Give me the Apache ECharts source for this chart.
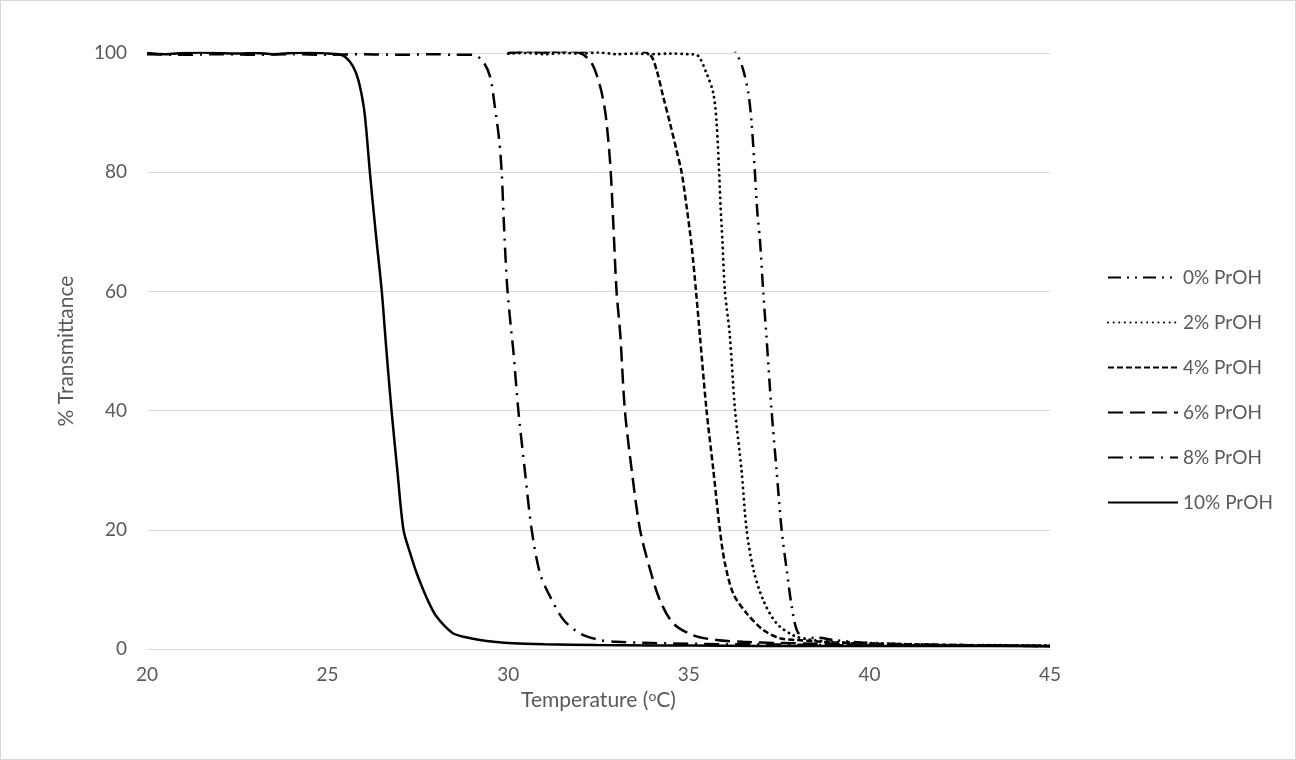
<!DOCTYPE html>
<html>
<head>
<meta charset="utf-8">
<script src="https://cdn.jsdelivr.net/npm/echarts@6/dist/echarts.min.js"></script>
<style>
html,body{margin:0;padding:0;background:#fff;}
#wrap{width:1296px;height:760px;box-sizing:border-box;border:1px solid #d9d9d9;position:relative;}
#chart{position:absolute;left:0;top:0;width:1294px;height:758px;}
</style>
</head>
<body>
<div id="wrap"><div id="chart"></div></div>
<script>
// ---- data ----
const seriesNames = ['0% PrOH','2% PrOH','4% PrOH','6% PrOH','8% PrOH','10% PrOH'];
const xTicks = [20,25,30,35,40,45];
const yTicks = [0,20,40,60,80,100];

const T0 = [30,30.5,31,31.5,32,32.5,33,33.5,34,34.5,35,35.5,36,36.2,36.35,36.51,36.65,36.74,36.83,36.9,36.97,37.06,37.15,37.29,37.43,37.57,37.71,37.85,37.99,38.2,38.6,39,40,41,42,43,45];
const V0 = [100,100.2,100.4,100.3,100.5,100.4,100.7,100.9,101,100.8,101,101.1,101.2,101,99.6,97.1,93.2,88.2,80,73.1,68.6,60,52.4,40.1,30,20,13.3,7.1,3.2,1.8,1.9,1.5,1.0,0.8,0.7,0.6,0.5];

const T2 = [30,30.5,31,31.5,32,32.5,33,33.5,34,34.5,35,35.22,35.49,35.68,35.77,35.84,35.88,35.93,36.0,36.13,36.28,36.46,36.6,36.79,37.06,37.43,37.89,38.3,39,40,42,45];
const V2 = [99.9,100,99.8,100,99.9,100.1,99.8,99.9,99.8,99.9,99.8,99.7,96.6,93.2,88.2,80,74.2,68.6,60,53,40.1,30,20,13.3,8.2,4.3,2.3,1.6,1.2,1.0,0.7,0.6];

const T4 = [30,30.5,31,31.5,32,32.5,33,33.5,33.93,34.11,34.29,34.48,34.66,34.8,34.94,35.08,35.2,35.31,35.49,35.68,35.86,36.0,36.23,36.6,37.06,37.52,37.99,38.5,39,40,42,45];
const V4 = [100,100.3,100.1,100.4,100.2,100.6,100.9,100.5,99.7,97.1,92.7,88.2,83.7,80,74.2,67.5,60,52.4,40.1,30,20,14.4,9.3,6,3.2,1.8,1.5,1.3,1.1,0.9,0.7,0.5];

const T6 = [30,30.5,31,31.5,32,32.31,32.54,32.68,32.77,32.84,32.91,33.0,33.1,33.23,33.42,33.65,33.93,34.2,34.57,35.12,35.77,36.5,37.5,38.5,40,42,45];
const V6 = [100.2,100.4,100.1,100.3,100,98.3,94.5,90.4,85.4,80,71.4,60,53,40.1,30,20,13.3,8.2,4.3,2.3,1.5,1.2,1.0,0.9,0.7,0.6,0.5];

const T8 = [20,21,22,23,24,25,26,27,28,28.5,29.03,29.31,29.5,29.63,29.75,29.82,29.88,29.97,30.09,30.14,30.28,30.46,30.65,30.88,31.16,31.53,31.99,32.54,33,34,35,36,37,38,40,42,45];
const V8 = [99.8,99.7,99.8,99.7,99.8,99.7,99.8,99.7,99.8,99.7,99.7,98.5,96,91,85.4,80,71.5,61,53,50.2,40.1,30,20,12.7,8.8,4.9,2.6,1.5,1.2,1.0,0.9,0.8,0.8,0.7,0.6,0.6,0.5];

const T10 = [20,20.5,21,21.5,22,22.5,23,23.5,24,24.5,25,25.3,25.5,25.7,25.85,26.0,26.08,26.17,26.33,26.5,26.63,26.77,26.93,27.1,27.28,27.45,27.65,27.85,28.02,28.25,28.48,28.8,29.22,29.6,30.14,31,32.45,34,36,38,40,42,45];
const V10 = [100,99.8,100,100.1,100,99.9,100,99.8,100,100.1,99.9,99.8,99.3,97.8,95.5,91,86.5,80,70,60,50,40,30,20,16.2,13,9.9,7.2,5.4,3.8,2.6,2,1.5,1.2,0.95,0.8,0.67,0.6,0.55,0.5,0.5,0.5,0.45];

const temps = [T0,T2,T4,T6,T8,T10];
const vals = [V0,V2,V4,V6,V8,V10];
const dashes = [[13,6,2,6,2,6],[0.1,5.5],[6,3],[15,7],[15,7,2,7],'solid'];
const caps = ['butt','round','butt','butt','butt','butt'];
const widths = [2.5,2.8,2.5,2.5,2.5,2.5];

const FONT = 'Lato, "Open Sans", sans-serif';
const TXT = '#595959';

const chart = echarts.init(document.getElementById('chart'), null, {renderer:'canvas'});
const series = seriesNames.map((n,i)=>({
  name:n, type:'line', showSymbol:false, symbol:'none', smooth:0.3,
  data: temps[i].map((t,j)=>[t, vals[i][j]]),
  lineStyle:{color:'#000', width:widths[i], type:dashes[i], cap:caps[i]},
  itemStyle:{color:'#000'},
  emphasis:{disabled:true},
  z: 10 - i
}));
chart.setOption({
  animation:false,
  backgroundColor:'#fff',
  textStyle:{fontFamily:FONT},
  grid:{left:146, right:245, top:52, bottom:110, containLabel:false},
  legend:{
    orient:'vertical', left:1101, top:262,
    itemWidth:70, itemHeight:14, itemGap:26,
    itemStyle:{opacity:0, borderWidth:0},
    textStyle:{color:TXT, fontSize:19, fontFamily:FONT},
    data: seriesNames
  },
  xAxis:{
    type:'value', min:20, max:45, interval:5,
    name:'Temperature ({sup|o}C)', nameLocation:'middle', nameGap:40,
    nameTextStyle:{color:TXT, fontSize:21, fontFamily:FONT, rich:{sup:{fontSize:14, color:TXT, fontFamily:FONT, verticalAlign:'top', padding:[0,0,8,0]}}},
    axisLine:{show:true, lineStyle:{color:'#d9d9d9', width:1}},
    axisTick:{show:false},
    splitLine:{show:false},
    axisLabel:{color:TXT, fontSize:19, margin:16, fontFamily:FONT}
  },
  yAxis:{
    type:'value', min:0, max:100, interval:20,
    name:'% Transmittance', nameLocation:'middle', nameGap:70, nameRotate:90,
    nameTextStyle:{color:TXT, fontSize:21, fontFamily:FONT},
    axisLine:{show:false}, axisTick:{show:false},
    splitLine:{show:true, lineStyle:{color:'#d9d9d9', width:1}},
    axisLabel:{color:TXT, fontSize:19, margin:20, fontFamily:FONT}
  },
  series: series
});
</script>
</body>
</html>
